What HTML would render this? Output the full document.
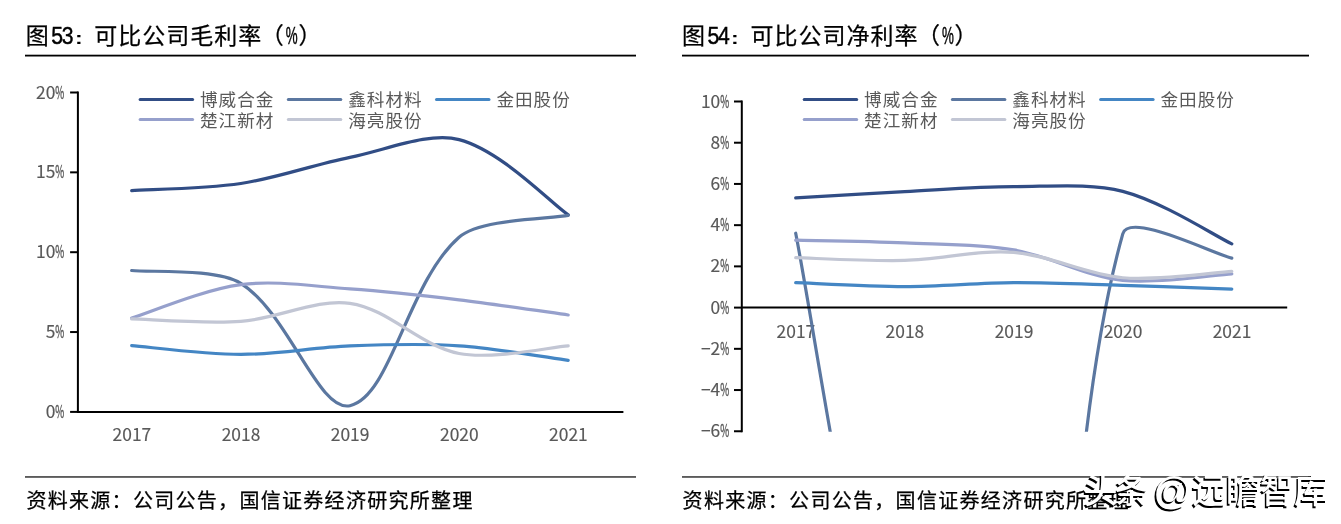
<!DOCTYPE html>
<html><head><meta charset="utf-8"><title>可比公司毛利率与净利率</title>
<style>
html,body{margin:0;padding:0;background:#fff;}
body{width:1341px;height:524px;position:relative;overflow:hidden;}
svg{position:absolute;left:0;top:0;}
.data path{fill:none;stroke-width:3.2;stroke-linecap:round;stroke-linejoin:round;}
.axl{stroke:#000;stroke-width:2;}
.ax{font-family:"Noto Sans CJK SC",sans-serif;font-size:17.4px;fill:#595959;stroke:#595959;stroke-width:0.15px;}
.axp{stroke-width:0.4px;}
.lt{font-family:"Liberation Sans","Noto Sans CJK SC",sans-serif;font-size:17.6px;letter-spacing:1.0px;fill:#595959;}
.lg{stroke-width:3;stroke-linecap:round;}
.tt{font-family:"Liberation Sans","Noto Sans CJK SC",sans-serif;font-size:23px;letter-spacing:1px;fill:#000;font-weight:400;stroke:#000;stroke-width:0.25px;}
.tc{font-family:"Liberation Sans",sans-serif;font-size:16px;font-weight:bold;fill:#000;}
.tn{font-family:"Liberation Sans",sans-serif;font-size:23px;fill:#000;stroke:#000;stroke-width:0.45px;}
.cap{font-family:"Liberation Sans","Noto Sans CJK SC",sans-serif;font-size:20px;letter-spacing:1.3px;fill:#000;font-weight:400;stroke:#000;stroke-width:0.25px;}
.wm{font-family:"Liberation Sans","Noto Sans CJK SC",sans-serif;font-size:34px;font-weight:500;}
.wma{font-family:"Liberation Sans",sans-serif;font-size:38px;}
</style></head><body>
<svg width="1341" height="524" viewBox="0 0 1341 524">
<defs>
<clipPath id="cl"><rect x="0" y="0" width="700" height="414.9"/></clipPath>
<clipPath id="cr"><rect x="700" y="60" width="641" height="371.76"/></clipPath>
</defs>
<text x="25.70" y="43.9" class="tt">图</text>
<text class="tn" transform="translate(51.20 43.75) scale(0.92 1)" letter-spacing="-1.2">53</text>
<text class="tc" transform="translate(74.90 43.6) scale(1.45 1)">:</text>
<text x="94.30" y="43.9" class="tt">可比公司毛利率</text>
<text x="260.80" y="43.9" class="tt">（</text>
<text class="tn" transform="translate(285.80 43.75) scale(0.58 1)">%</text>
<text x="298.40" y="43.9" class="tt">）</text>
<text x="681.90" y="43.9" class="tt">图</text>
<text class="tn" transform="translate(707.40 43.75) scale(0.92 1)" letter-spacing="-1.2">54</text>
<text class="tc" transform="translate(731.10 43.6) scale(1.45 1)">:</text>
<text x="750.50" y="43.9" class="tt">可比公司净利率</text>
<text x="917.00" y="43.9" class="tt">（</text>
<text class="tn" transform="translate(942.00 43.75) scale(0.58 1)">%</text>
<text x="954.60" y="43.9" class="tt">）</text>
<rect x="25" y="54.7" width="611" height="1.8" fill="#000"/>
<rect x="682" y="54.7" width="627" height="1.8" fill="#000"/>
<text x="131.9" y="441.1" class="ax" text-anchor="middle">2017</text>
<text x="241.0" y="441.1" class="ax" text-anchor="middle">2018</text>
<text x="350.1" y="441.1" class="ax" text-anchor="middle">2019</text>
<text x="459.3" y="441.1" class="ax" text-anchor="middle">2020</text>
<text x="568.4" y="441.1" class="ax" text-anchor="middle">2021</text>
<text x="795.9" y="337.5" class="ax" text-anchor="middle">2017</text>
<text x="904.9" y="337.5" class="ax" text-anchor="middle">2018</text>
<text x="1014.0" y="337.5" class="ax" text-anchor="middle">2019</text>
<text x="1123.0" y="337.5" class="ax" text-anchor="middle">2020</text>
<text x="1232.0" y="337.5" class="ax" text-anchor="middle">2021</text>
<g class="data">
<path d="M131.70 190.56 C149.89 189.38 205.47 188.91 240.82 183.53 C278.22 177.84 312.99 164.78 349.95 157.34 C385.74 150.14 428.73 131.62 459.07 139.61 C501.48 150.78 550.01 202.29 568.20 214.83" stroke="#314d85" clip-path="url(#cl)"/>
<path d="M131.70 270.52 C149.89 272.65 215.97 267.95 240.82 283.34 C288.72 313.01 318.17 412.42 349.95 405.70 C390.92 397.04 407.61 282.05 459.07 237.19 C480.36 218.63 550.01 219.05 568.20 215.42" stroke="#5b77a0" clip-path="url(#cl)"/>
<path d="M131.70 345.62 C149.89 347.09 204.44 354.35 240.82 354.41 C277.19 354.46 313.45 347.39 349.95 345.94 C386.20 344.51 423.06 343.41 459.07 345.78 C495.81 348.20 550.01 357.89 568.20 360.32" stroke="#4486c4" clip-path="url(#cl)"/>
<path d="M131.70 318.00 C149.89 312.43 202.75 289.69 240.82 284.62 C275.50 280.00 313.74 286.41 349.95 288.93 C386.49 291.47 422.89 295.47 459.07 299.79 C495.64 304.15 550.01 312.43 568.20 314.96" stroke="#96a0cc" clip-path="url(#cl)"/>
<path d="M131.70 318.95 C149.89 319.35 204.98 323.92 240.82 321.35 C277.73 318.70 316.56 298.39 349.95 303.30 C389.31 309.09 419.27 345.67 459.07 353.45 C492.02 359.89 550.01 347.19 568.20 345.94" stroke="#c2c6d4" clip-path="url(#cl)"/>
<path d="M795.70 197.95 C813.87 196.89 868.36 193.46 904.73 191.57 C941.04 189.68 977.40 186.65 1013.75 186.62 C1050.09 186.58 1090.20 182.80 1122.78 191.36 C1162.89 201.90 1213.63 235.16 1231.80 243.92" stroke="#314d85" clip-path="url(#cr)"/>
<path d="M795.70 233.20 C813.87 326.11 854.75 606.79 904.73 790.70 C927.43 874.24 996.24 1080.25 1013.75 1035.55 C1068.93 894.63 1056.41 470.43 1122.78 233.82 C1129.09 211.29 1213.63 254.08 1231.80 258.14" stroke="#5b77a0" clip-path="url(#cr)"/>
<path d="M795.70 282.66 C813.87 283.31 868.38 286.58 904.73 286.58 C941.07 286.58 977.39 282.87 1013.75 282.66 C1050.08 282.46 1086.44 284.28 1122.78 285.34 C1159.13 286.41 1213.63 288.43 1231.80 289.05" stroke="#4486c4" clip-path="url(#cr)"/>
<path d="M795.70 240.21 C813.87 240.65 868.46 241.27 904.73 242.88 C941.14 244.50 978.80 243.88 1013.75 249.89 C1051.48 256.38 1085.03 276.26 1122.78 280.39 C1157.72 284.23 1213.63 274.90 1231.80 273.80" stroke="#96a0cc" clip-path="url(#cr)"/>
<path d="M795.70 257.72 C813.87 258.17 868.48 261.29 904.73 260.40 C941.16 259.51 978.34 249.55 1013.75 252.37 C1051.02 255.32 1085.46 274.47 1122.78 277.72 C1158.14 280.79 1213.63 272.39 1231.80 271.33" stroke="#c2c6d4" clip-path="url(#cr)"/>
</g>
<line x1="77.9" y1="91.49999999999994" x2="77.9" y2="412.9" class="axl"/>
<line x1="77.9" y1="411.9" x2="623.4" y2="411.9" class="axl"/>
<text class="ax axp" transform="translate(64.30 98.50) scale(0.56 1)" text-anchor="end">%</text>
<text x="55.30" y="98.50" class="ax" text-anchor="end">20</text>
<line x1="70.1" y1="92.50" x2="77.9" y2="92.50" class="axl"/>
<text class="ax axp" transform="translate(64.30 178.35) scale(0.56 1)" text-anchor="end">%</text>
<text x="55.30" y="178.35" class="ax" text-anchor="end">15</text>
<line x1="70.1" y1="172.35" x2="77.9" y2="172.35" class="axl"/>
<text class="ax axp" transform="translate(64.30 258.20) scale(0.56 1)" text-anchor="end">%</text>
<text x="55.30" y="258.20" class="ax" text-anchor="end">10</text>
<line x1="70.1" y1="252.20" x2="77.9" y2="252.20" class="axl"/>
<text class="ax axp" transform="translate(64.30 338.05) scale(0.56 1)" text-anchor="end">%</text>
<text x="55.30" y="338.05" class="ax" text-anchor="end">5</text>
<line x1="70.1" y1="332.05" x2="77.9" y2="332.05" class="axl"/>
<text class="ax axp" transform="translate(64.30 417.90) scale(0.56 1)" text-anchor="end">%</text>
<text x="55.30" y="417.90" class="ax" text-anchor="end">0</text>
<line x1="70.1" y1="411.90" x2="77.9" y2="411.90" class="axl"/>
<line x1="741.8" y1="100.50000000000003" x2="741.8" y2="432.26" class="axl"/>
<line x1="741.8" y1="307.6" x2="1287.2" y2="307.6" class="axl"/>
<text class="ax axp" transform="translate(729.20 107.50) scale(0.56 1)" text-anchor="end">%</text>
<text x="720.20" y="107.50" class="ax" text-anchor="end">10</text>
<line x1="734.0" y1="101.50" x2="741.8" y2="101.50" class="axl"/>
<text class="ax axp" transform="translate(729.20 148.72) scale(0.56 1)" text-anchor="end">%</text>
<text x="720.20" y="148.72" class="ax" text-anchor="end">8</text>
<line x1="734.0" y1="142.72" x2="741.8" y2="142.72" class="axl"/>
<text class="ax axp" transform="translate(729.20 189.94) scale(0.56 1)" text-anchor="end">%</text>
<text x="720.20" y="189.94" class="ax" text-anchor="end">6</text>
<line x1="734.0" y1="183.94" x2="741.8" y2="183.94" class="axl"/>
<text class="ax axp" transform="translate(729.20 231.16) scale(0.56 1)" text-anchor="end">%</text>
<text x="720.20" y="231.16" class="ax" text-anchor="end">4</text>
<line x1="734.0" y1="225.16" x2="741.8" y2="225.16" class="axl"/>
<text class="ax axp" transform="translate(729.20 272.38) scale(0.56 1)" text-anchor="end">%</text>
<text x="720.20" y="272.38" class="ax" text-anchor="end">2</text>
<line x1="734.0" y1="266.38" x2="741.8" y2="266.38" class="axl"/>
<text class="ax axp" transform="translate(729.20 313.60) scale(0.56 1)" text-anchor="end">%</text>
<text x="720.20" y="313.60" class="ax" text-anchor="end">0</text>
<line x1="734.0" y1="307.60" x2="741.8" y2="307.60" class="axl"/>
<text class="ax axp" transform="translate(729.20 354.82) scale(0.56 1)" text-anchor="end">%</text>
<text x="720.20" y="354.82" class="ax" text-anchor="end">−2</text>
<line x1="734.0" y1="348.82" x2="741.8" y2="348.82" class="axl"/>
<text class="ax axp" transform="translate(729.20 396.04) scale(0.56 1)" text-anchor="end">%</text>
<text x="720.20" y="396.04" class="ax" text-anchor="end">−4</text>
<line x1="734.0" y1="390.04" x2="741.8" y2="390.04" class="axl"/>
<text class="ax axp" transform="translate(729.20 437.26) scale(0.56 1)" text-anchor="end">%</text>
<text x="720.20" y="437.26" class="ax" text-anchor="end">−6</text>
<line x1="734.0" y1="431.26" x2="741.8" y2="431.26" class="axl"/>
<line x1="140.1" y1="99.5" x2="192.6" y2="99.5" stroke="#314d85" class="lg"/>
<text x="200.0" y="106.4" class="lt">博威合金</text>
<line x1="288.3" y1="99.5" x2="340.8" y2="99.5" stroke="#5b77a0" class="lg"/>
<text x="348.2" y="106.4" class="lt">鑫科材料</text>
<line x1="436.5" y1="99.5" x2="489.0" y2="99.5" stroke="#4486c4" class="lg"/>
<text x="496.4" y="106.4" class="lt">金田股份</text>
<line x1="140.1" y1="119.6" x2="192.6" y2="119.6" stroke="#96a0cc" class="lg"/>
<text x="200.0" y="126.5" class="lt">楚江新材</text>
<line x1="288.3" y1="119.6" x2="340.8" y2="119.6" stroke="#c2c6d4" class="lg"/>
<text x="348.2" y="126.5" class="lt">海亮股份</text>
<line x1="804.2" y1="99.5" x2="856.7" y2="99.5" stroke="#314d85" class="lg"/>
<text x="864.1" y="106.4" class="lt">博威合金</text>
<line x1="952.4" y1="99.5" x2="1004.9" y2="99.5" stroke="#5b77a0" class="lg"/>
<text x="1012.3" y="106.4" class="lt">鑫科材料</text>
<line x1="1100.6" y1="99.5" x2="1153.1" y2="99.5" stroke="#4486c4" class="lg"/>
<text x="1160.5" y="106.4" class="lt">金田股份</text>
<line x1="804.2" y1="119.6" x2="856.7" y2="119.6" stroke="#96a0cc" class="lg"/>
<text x="864.1" y="126.5" class="lt">楚江新材</text>
<line x1="952.4" y1="119.6" x2="1004.9" y2="119.6" stroke="#c2c6d4" class="lg"/>
<text x="1012.3" y="126.5" class="lt">海亮股份</text>
<rect x="25" y="476.2" width="611" height="1.5" fill="#333"/>
<rect x="682" y="476.2" width="627" height="1.5" fill="#333"/>
<text x="26.40" y="507.9" class="cap">资料来源：公司公告，国信证券经济研究所整理</text>
<text x="682.60" y="507.9" class="cap">资料来源：公司公告，国信证券经济研究所整理</text>
<text x="1081.9" y="505.2" class="wm" fill="#000" style="letter-spacing:-3px">头条</text>
<text x="1151.6" y="505.9" class="wma" fill="#000" style="">@</text>
<text x="1190.4" y="505.2" class="wm" fill="#000" style="">远瞻智库</text>
<text x="1083.5" y="503.0" class="wm" fill="#fff" style="letter-spacing:-3px">头条</text>
<text x="1153.2" y="503.7" class="wma" fill="#fff" style="">@</text>
<text x="1192.0" y="503.0" class="wm" fill="#fff" style="">远瞻智库</text>
</svg>
</body></html>
